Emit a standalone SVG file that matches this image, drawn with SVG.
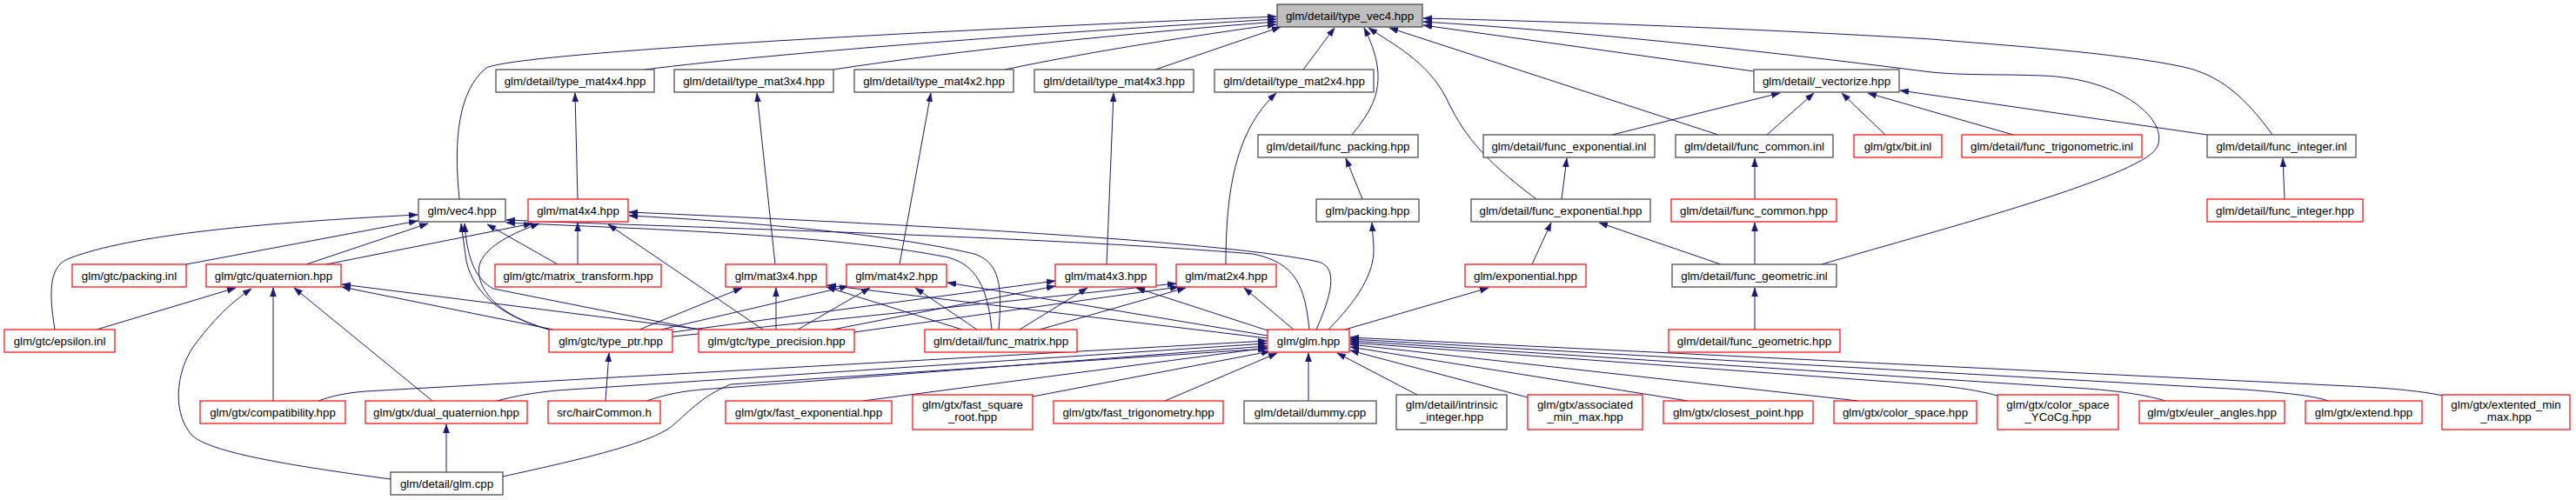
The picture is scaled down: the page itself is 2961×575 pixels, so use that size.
<svg xmlns="http://www.w3.org/2000/svg" width="2961" height="575" viewBox="0 0 2961 575">
<style>
.n rect{fill:#fff;stroke:#404040;stroke-width:1.2}
.n.r rect{stroke:#ff0000}
.n.root rect{fill:#bfbfbf;stroke:#404040}
.n text{font-family:"Liberation Sans",Arial,Helvetica,sans-serif;font-size:13.3px;text-anchor:middle;fill:#000}
#edges path{fill:none;stroke:#191970;stroke-width:1;marker-end:url(#a)}
</style>
<defs>
<marker id="a" markerUnits="userSpaceOnUse" markerWidth="11" markerHeight="8" refX="10" refY="4" orient="auto"><path d="M0,0.5 L10,4 L0,7.5 z" fill="#191970" stroke="#191970" stroke-width="0.5"/></marker>
</defs>
<rect width="2961" height="575" fill="#fff"/>
<g id="edges">
<path d="M528,229 C521,160 527,104 559,78 C592,62 1000,38 1467,19"/>
<path d="M741,80 C900,60 1200,38 1467,22"/>
<path d="M958,80 C1100,58 1300,38 1467,25"/>
<path d="M1155,80 C1260,58 1380,40 1467,28"/>
<path d="M1328,80 L1472,31"/>
<path d="M1498,80 L1534,32"/>
<path d="M1554,155 C1578,125 1600,95 1568,32"/>
<path d="M1766,229 C1700,180 1680,150 1662,112 C1640,70 1600,50 1573,32"/>
<path d="M1975,155 L1597,32"/>
<path d="M2016,82 L1636,29"/>
<path d="M2612,155 C2580,110 2550,86 2510,77 C2430,60 2300,52 2220,45 C2000,32 1800,25 1636,21"/>
<path d="M2094,304 C2200,272 2460,205 2479,170 C2495,140 2440,90 2347,87 C2300,85 2260,87 2220,83 C2000,55 1800,35 1636,25"/>
<path d="M1853,155 L2046,107"/>
<path d="M2031,155 L2085,107"/>
<path d="M2167,155 L2117,107"/>
<path d="M2314,155 L2147,107"/>
<path d="M2537,155 L2184,104"/>
<path d="M1795,229 L1801,182"/>
<path d="M2017,229 L2017,182"/>
<path d="M1566,229 L1547,182"/>
<path d="M2626,229 L2624,182"/>
<path d="M1761,304 L1783,256"/>
<path d="M1978,304 L1838,256"/>
<path d="M2017,304 L2017,256"/>
<path d="M2017,379 L2017,331"/>
<path d="M664,229 L661,107"/>
<path d="M891,304 L870,107"/>
<path d="M1034,304 L1070,107"/>
<path d="M1272,304 L1280,107"/>
<path d="M1409,304 C1409,220 1420,150 1467,107"/>
<path d="M1527,379 C1560,345 1580,315 1579,285 L1577,256"/>
<path d="M1546,379 L1711,331"/>
<path d="M1487,379 L1430,331"/>
<path d="M1460,381 L1306,331"/>
<path d="M1457,386 L1089,325"/>
<path d="M1457,389 L951,328"/>
<path d="M1505,379 C1500,330 1490,302 1440,292 C1200,272 800,262 582,253"/>
<path d="M1513,379 C1535,330 1535,306 1515,301 C1400,276 1000,256 723,244"/>
<path d="M1140,379 C1135,330 1122,305 1090,296 C950,268 700,262 582,256"/>
<path d="M1148,379 C1152,330 1150,302 1120,292 C1000,264 800,252 723,248"/>
<path d="M63,379 C55,330 58,305 80,297 C150,270 300,256 480,247"/>
<path d="M214,304 L480,254"/>
<path d="M352,304 L492,257"/>
<path d="M631,379 C580,365 545,340 536,300 L530,257"/>
<path d="M803,379 L567,332 C548,322 537,300 534,257"/>
<path d="M641,304 L560,258"/>
<path d="M375,304 L612,257"/>
<path d="M632,379 C560,360 545,322 552,302 C560,282 590,268 620,257"/>
<path d="M664,304 L664,256"/>
<path d="M877,379 L699,258"/>
<path d="M111,379 L271,331"/>
<path d="M449,551 C330,535 240,520 220,500 C195,470 205,420 225,395 C250,362 270,345 289,332"/>
<path d="M314,461 L314,331"/>
<path d="M497,461 L338,331"/>
<path d="M636,379 L393,330"/>
<path d="M807,379 L393,327"/>
<path d="M696,461 L700,406"/>
<path d="M513,543 L513,488"/>
<path d="M735,379 L853,331"/>
<path d="M892,379 L892,331"/>
<path d="M1106,379 L950,330"/>
<path d="M760,379 L975,329"/>
<path d="M917,379 L1000,331"/>
<path d="M1123,379 L1052,331"/>
<path d="M773,382 L1213,323"/>
<path d="M957,379 L1213,329"/>
<path d="M1172,379 L1250,331"/>
<path d="M773,387 L1352,326"/>
<path d="M982,382 L1355,330"/>
<path d="M1195,379 L1363,331"/>
<path d="M366,461 C380,456 395,452 420,450 L1456,392"/>
<path d="M571,461 C590,456 610,452 640,449 L1456,395"/>
<path d="M743,461 C765,454 785,449 820,447 L1456,398"/>
<path d="M578,548 C660,530 740,512 770,492 C790,476 805,456 840,442 L1456,401"/>
<path d="M992,461 L1457,400"/>
<path d="M1187,456 L1460,404"/>
<path d="M1339,461 L1468,406"/>
<path d="M1504,461 L1504,406"/>
<path d="M1629,454 L1537,406"/>
<path d="M1756,457 L1552,403"/>
<path d="M1940,461 L1552,399"/>
<path d="M2136,461 L1552,396"/>
<path d="M2296,455 C2270,448 2240,444 2200,441 L1552,394"/>
<path d="M2489,461 C2470,455 2440,450 2400,447 L1552,392"/>
<path d="M2676,461 C2660,455 2620,451 2580,448 L1552,390"/>
<path d="M2808,455 C2780,449 2740,446 2700,444 L1552,388"/>
</g>
<g id="n_root" class="n root"><rect x="1468" y="5" width="167" height="26"/><text x="1551.5" y="22.5">glm/detail/type_vec4.hpp</text></g>
<g id="n_type_mat4x4" class="n"><rect x="570" y="80" width="182" height="26"/><text x="661" y="97.5">glm/detail/type_mat4x4.hpp</text></g>
<g id="n_type_mat3x4" class="n"><rect x="775" y="80" width="183" height="26"/><text x="866.5" y="97.5">glm/detail/type_mat3x4.hpp</text></g>
<g id="n_type_mat4x2" class="n"><rect x="982" y="80" width="183" height="26"/><text x="1073.5" y="97.5">glm/detail/type_mat4x2.hpp</text></g>
<g id="n_type_mat4x3" class="n"><rect x="1189" y="80" width="183" height="26"/><text x="1280.5" y="97.5">glm/detail/type_mat4x3.hpp</text></g>
<g id="n_type_mat2x4" class="n"><rect x="1396" y="80" width="183" height="26"/><text x="1487.5" y="97.5">glm/detail/type_mat2x4.hpp</text></g>
<g id="n_vectorize" class="n"><rect x="2016" y="80" width="167" height="26"/><text x="2099.5" y="97.5">glm/detail/_vectorize.hpp</text></g>
<g id="n_func_packing" class="n"><rect x="1446" y="155" width="184" height="26"/><text x="1538" y="172.5">glm/detail/func_packing.hpp</text></g>
<g id="n_func_exp_inl" class="n"><rect x="1705" y="155" width="197" height="26"/><text x="1803.5" y="172.5">glm/detail/func_exponential.inl</text></g>
<g id="n_func_common_inl" class="n"><rect x="1926" y="155" width="181" height="26"/><text x="2016.5" y="172.5">glm/detail/func_common.inl</text></g>
<g id="n_bit" class="n r"><rect x="2131" y="155" width="101" height="26"/><text x="2181.5" y="172.5">glm/gtx/bit.inl</text></g>
<g id="n_func_trig_inl" class="n r"><rect x="2255" y="155" width="207" height="26"/><text x="2358.5" y="172.5">glm/detail/func_trigonometric.inl</text></g>
<g id="n_func_int_inl" class="n"><rect x="2537" y="155" width="171" height="26"/><text x="2622.5" y="172.5">glm/detail/func_integer.inl</text></g>
<g id="n_vec4" class="n"><rect x="481" y="229" width="100" height="26"/><text x="531" y="246.5">glm/vec4.hpp</text></g>
<g id="n_mat4x4" class="n r"><rect x="607" y="229" width="115" height="26"/><text x="664.5" y="246.5">glm/mat4x4.hpp</text></g>
<g id="n_packing" class="n"><rect x="1513" y="229" width="118" height="26"/><text x="1572" y="246.5">glm/packing.hpp</text></g>
<g id="n_func_exp_hpp" class="n"><rect x="1691" y="229" width="206" height="26"/><text x="1794" y="246.5">glm/detail/func_exponential.hpp</text></g>
<g id="n_func_common_hpp" class="n r"><rect x="1921" y="229" width="190" height="26"/><text x="2016" y="246.5">glm/detail/func_common.hpp</text></g>
<g id="n_func_int_hpp" class="n r"><rect x="2537" y="229" width="179" height="26"/><text x="2626.5" y="246.5">glm/detail/func_integer.hpp</text></g>
<g id="n_packing_inl" class="n r"><rect x="83" y="304" width="131" height="26"/><text x="148.5" y="321.5">glm/gtc/packing.inl</text></g>
<g id="n_quat" class="n r"><rect x="237" y="304" width="155" height="26"/><text x="314.5" y="321.5">glm/gtc/quaternion.hpp</text></g>
<g id="n_mat_transform" class="n r"><rect x="569" y="304" width="191" height="26"/><text x="664.5" y="321.5">glm/gtc/matrix_transform.hpp</text></g>
<g id="n_mat3x4" class="n r"><rect x="834" y="304" width="116" height="26"/><text x="892" y="321.5">glm/mat3x4.hpp</text></g>
<g id="n_mat4x2" class="n r"><rect x="973" y="304" width="115" height="26"/><text x="1030.5" y="321.5">glm/mat4x2.hpp</text></g>
<g id="n_mat4x3" class="n r"><rect x="1213" y="304" width="116" height="26"/><text x="1271" y="321.5">glm/mat4x3.hpp</text></g>
<g id="n_mat2x4" class="n r"><rect x="1352" y="304" width="115" height="26"/><text x="1409.5" y="321.5">glm/mat2x4.hpp</text></g>
<g id="n_exponential" class="n r"><rect x="1684" y="304" width="139" height="26"/><text x="1753.5" y="321.5">glm/exponential.hpp</text></g>
<g id="n_func_geo_inl" class="n"><rect x="1922" y="304" width="189" height="26"/><text x="2016.5" y="321.5">glm/detail/func_geometric.inl</text></g>
<g id="n_epsilon" class="n r"><rect x="5" y="379" width="127" height="26"/><text x="68.5" y="396.5">glm/gtc/epsilon.inl</text></g>
<g id="n_type_ptr" class="n r"><rect x="631" y="379" width="142" height="26"/><text x="702" y="396.5">glm/gtc/type_ptr.hpp</text></g>
<g id="n_type_prec" class="n r"><rect x="803" y="379" width="179" height="26"/><text x="892.5" y="396.5">glm/gtc/type_precision.hpp</text></g>
<g id="n_func_matrix" class="n r"><rect x="1063" y="379" width="175" height="26"/><text x="1150.5" y="396.5">glm/detail/func_matrix.hpp</text></g>
<g id="n_glm" class="n r"><rect x="1457" y="379" width="94" height="26"/><text x="1504" y="396.5">glm/glm.hpp</text></g>
<g id="n_func_geo_hpp" class="n r"><rect x="1918" y="379" width="197" height="26"/><text x="2016.5" y="396.5">glm/detail/func_geometric.hpp</text></g>
<g id="n_compat" class="n r"><rect x="230" y="461" width="167" height="26"/><text x="313.5" y="478.5">glm/gtx/compatibility.hpp</text></g>
<g id="n_dualq" class="n r"><rect x="420" y="461" width="186" height="26"/><text x="513" y="478.5">glm/gtx/dual_quaternion.hpp</text></g>
<g id="n_hair" class="n r"><rect x="630" y="461" width="129" height="26"/><text x="694.5" y="478.5">src/hairCommon.h</text></g>
<g id="n_fast_exp" class="n r"><rect x="834" y="461" width="191" height="26"/><text x="929.5" y="478.5">glm/gtx/fast_exponential.hpp</text></g>
<g id="n_fast_sqrt" class="n r"><rect x="1049" y="454" width="138" height="40"/><text x="1118" y="469.5">glm/gtx/fast_square</text><text x="1118" y="484">_root.hpp</text></g>
<g id="n_fast_trig" class="n r"><rect x="1211" y="461" width="195" height="26"/><text x="1308.5" y="478.5">glm/gtx/fast_trigonometry.hpp</text></g>
<g id="n_dummy" class="n"><rect x="1430" y="461" width="152" height="26"/><text x="1506" y="478.5">glm/detail/dummy.cpp</text></g>
<g id="n_intrinsic" class="n"><rect x="1605" y="454" width="127" height="40"/><text x="1668.5" y="469.5">glm/detail/intrinsic</text><text x="1668.5" y="484">_integer.hpp</text></g>
<g id="n_assoc" class="n r"><rect x="1756" y="454" width="132" height="40"/><text x="1822" y="469.5">glm/gtx/associated</text><text x="1822" y="484">_min_max.hpp</text></g>
<g id="n_closest" class="n r"><rect x="1912" y="461" width="172" height="26"/><text x="1998" y="478.5">glm/gtx/closest_point.hpp</text></g>
<g id="n_color_space" class="n r"><rect x="2108" y="461" width="164" height="26"/><text x="2190" y="478.5">glm/gtx/color_space.hpp</text></g>
<g id="n_ycocg" class="n r"><rect x="2296" y="454" width="139" height="40"/><text x="2365.5" y="469.5">glm/gtx/color_space</text><text x="2365.5" y="484">_YCoCg.hpp</text></g>
<g id="n_euler" class="n r"><rect x="2459" y="461" width="167" height="26"/><text x="2542.5" y="478.5">glm/gtx/euler_angles.hpp</text></g>
<g id="n_extend" class="n r"><rect x="2650" y="461" width="134" height="26"/><text x="2717" y="478.5">glm/gtx/extend.hpp</text></g>
<g id="n_extmm" class="n r"><rect x="2807" y="454" width="147" height="40"/><text x="2880.5" y="469.5">glm/gtx/extented_min</text><text x="2880.5" y="484">_max.hpp</text></g>
<g id="n_glm_cpp" class="n"><rect x="449" y="543" width="129" height="26"/><text x="513.5" y="560.5">glm/detail/glm.cpp</text></g>
</svg>
